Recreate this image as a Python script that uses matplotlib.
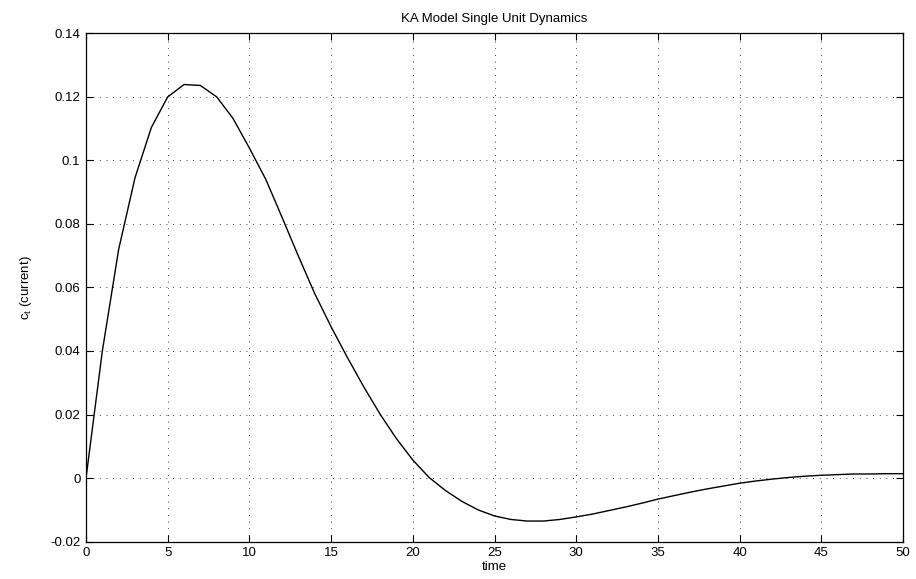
import numpy as np
import matplotlib
matplotlib.use("Agg")
import matplotlib.pyplot as plt

# values at integer time steps
time = list(range(0, 51))
current = [0.0, 0.040, 0.072, 0.0945, 0.1103, 0.1199, 0.1238, 0.1235, 0.1199, 0.1131,
           0.1038, 0.0940, 0.0820, 0.0698, 0.0580, 0.0476, 0.0379, 0.0287, 0.0201, 0.0124,
           0.0057, 0.0002, -0.0039, -0.0073, -0.0100, -0.0119, -0.0130, -0.0135, -0.0135, -0.0130,
           -0.0122, -0.0113, -0.0102, -0.0091, -0.0079, -0.0066, -0.0055, -0.0044, -0.0034, -0.0025,
           -0.0016, -0.0009, -0.0003, 0.0002, 0.0006, 0.0009, 0.0011, 0.0013, 0.0013, 0.0014,
           0.0014]

xticks = [0, 5, 10, 15, 20, 25, 30, 35, 40, 45, 50]
yticks = [-0.02, 0, 0.02, 0.04, 0.06, 0.08, 0.1, 0.12, 0.14]
ytick_labels = ["-0.02", "0", "0.02", "0.04", "0.06", "0.08", "0.1", "0.12", "0.14"]

plt.rcParams['font.family'] = ['Liberation Sans', 'DejaVu Sans']
plt.rcParams['font.size'] = 9

fig = plt.figure(figsize=(9.16, 5.79), dpi=100)
ax = fig.add_axes([0.0939, 0.0644, 0.8919, 0.8786])

ax.plot(time, current, color='black', linewidth=1.0)

ax.set_xlim(0, 50)
ax.set_ylim(-0.02, 0.14)
ax.set_xticks(xticks)
ax.set_xticklabels([str(v) for v in xticks])
ax.set_yticks(yticks)
ax.set_yticklabels(ytick_labels)

ax.tick_params(direction='in', top=True, right=True, length=5, width=0.8,
               labelsize=9.5, pad=4, colors='black')
ax.grid(True, linestyle=(0, (1, 7)), color='black', linewidth=0.6)
for s in ax.spines.values():
    s.set_linewidth(0.9)

ax.set_title('KA Model Single Unit Dynamics', fontsize=9.5, pad=8)
ax.set_xlabel('time', fontsize=9.5, labelpad=1)
ax.set_ylabel(r'$\mathregular{c_t}$ (current)', fontsize=9.5, labelpad=12)

fig.savefig('out.png', dpi=100)
